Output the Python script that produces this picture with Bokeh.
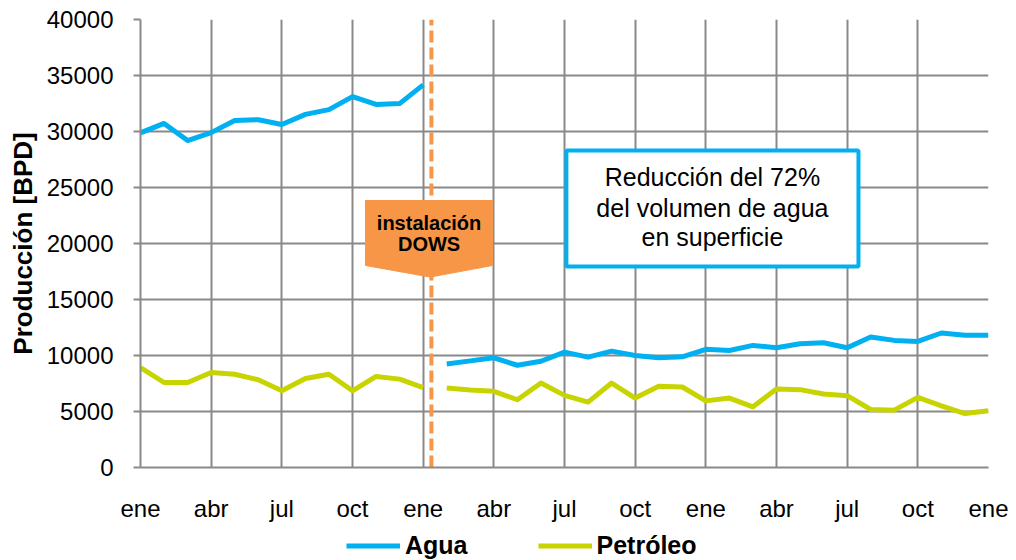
from bokeh.plotting import figure
from bokeh.layouts import column
from bokeh.models import (Range1d, FixedTicker, Legend, LegendItem, Label)
from bokeh.embed import file_html
from bokeh.resources import INLINE

# ---- data ----
months = list(range(37))
x_ticks = [0, 3, 6, 9, 12, 15, 18, 21, 24, 27, 30, 33, 36]
x_labels = ["ene", "abr", "jul", "oct", "ene", "abr", "jul", "oct",
            "ene", "abr", "jul", "oct", "ene"]
y_ticks = [0, 5000, 10000, 15000, 20000, 25000, 30000, 35000, 40000]

agua = [29880, 30720, 29190, 29900, 30990, 31050, 30630, 31530, 31950, 33110, 32420, 32490, 34160,
        9250, 9520, 9790, 9130, 9490, 10300, 9850, 10390, 10000, 9790, 9880, 10550,
        10450, 10900, 10690, 11050, 11140, 10690, 11650, 11350, 11260, 12010, 11800, 11800]
petroleo = [8930, 7590, 7590, 8480, 8330, 7830, 6850, 7950, 8330, 6850, 8130, 7890, 7140,
            7100, 6920, 6800, 6050, 7540, 6440, 5840, 7540, 6200, 7250, 7190, 5950,
            6200, 5420, 7010, 6950, 6560, 6410, 5180, 5120, 6260, 5510, 4820, 5060]
split = 13  # installation of DOWS between month 12 and 13
series_names = ["Agua", "Petróleo"]

FONT = "Liberation Sans"
GRID = "#898989"
BLUE = "#00B0F0"
GREEN = "#C8D400"
ORANGE = "#F79646"

p = figure(frame_width=848, frame_height=448, output_backend="svg", toolbar_location=None,
           x_range=Range1d(0, 36), y_range=Range1d(0, 40000),
           min_border_left=140, min_border_top=19, min_border_right=28, min_border_bottom=63)
p.outline_line_color = None
p.background_fill_color = "white"
p.border_fill_color = "white"

# grids
p.xgrid.ticker = FixedTicker(ticks=x_ticks)
p.ygrid.ticker = FixedTicker(ticks=y_ticks)
for g in (p.xgrid, p.ygrid):
    g.grid_line_color = GRID
    g.grid_line_width = 2

# axes
p.xaxis.ticker = FixedTicker(ticks=x_ticks)
p.xaxis.major_label_overrides = {t: l for t, l in zip(x_ticks, x_labels)}
p.yaxis.ticker = FixedTicker(ticks=y_ticks)
for ax in (p.xaxis, p.yaxis):
    ax.axis_line_color = GRID
    ax.axis_line_width = 2
    ax.major_tick_line_color = GRID
    ax.major_tick_line_width = 2
    ax.minor_tick_line_color = None
    ax.major_label_text_font = FONT
    ax.major_label_text_font_size = "24px"
    ax.major_label_text_color = "#000000"
p.xaxis.major_tick_out = 0
p.xaxis.major_tick_in = 0
p.xaxis.major_label_standoff = 27
p.yaxis.major_tick_out = 7
p.yaxis.major_tick_in = 0
p.yaxis.major_label_standoff = 20
p.yaxis.axis_label = "Producción [BPD]"
p.yaxis.axis_label_text_font = FONT
p.yaxis.axis_label_text_font_size = "26px"
p.yaxis.axis_label_text_font_style = "bold"
p.yaxis.axis_label_text_color = "#000000"
p.yaxis.axis_label_standoff = 6

# DOWS installation dashed line
p.segment(x0=[12.35], y0=[0], x1=[12.35], y1=[40000], line_color=ORANGE,
          line_width=4, line_dash="12 5")

# series
p.line(months[:split], agua[:split], line_color=BLUE, line_width=5, line_join="round")
p.line(months[split:], agua[split:], line_color=BLUE, line_width=5, line_join="round")
p.line(months[:split], petroleo[:split], line_color=GREEN, line_width=5, line_join="round")
p.line(months[split:], petroleo[split:], line_color=GREEN, line_width=5, line_join="round")

# callout (orange pentagon arrow)
cx = [9.55, 14.94, 14.94, 12.3, 9.55]
cy = [23839, 23839, 18036, 17000, 18036]
p.patch(cx, cy, fill_color=ORANGE, line_color=ORANGE, line_width=1)
for txt, yy in (("instalación", 21875), ("DOWS", 20000)):
    p.add_layout(Label(x=12.25, y=yy, text=txt, text_align="center", text_baseline="middle",
                       text_font=FONT, text_font_size="20px", text_font_style="bold",
                       text_color="#000000"))

# text box
p.quad(left=[18.08], right=[30.48], top=[28304], bottom=[17946], fill_color="white",
       line_color=BLUE, line_width=4)
for txt, yy in (("Reducción del 72%", 25893), ("del volumen de agua", 23214),
                ("en superficie", 20536)):
    p.add_layout(Label(x=24.28, y=yy, text=txt, text_align="center", text_baseline="middle",
                       text_font=FONT, text_font_size="25px", text_color="#000000"))

# ---- legend strip (separate figure below the chart) ----
lg = figure(frame_width=1016, frame_height=30, output_backend="svg", toolbar_location=None,
            x_range=Range1d(0, 1016), y_range=Range1d(0, 30),
            min_border_left=0, min_border_right=0, min_border_top=0, min_border_bottom=0,
            x_axis_type=None, y_axis_type=None)
lg.outline_line_color = None
lg.grid.visible = False
lg.background_fill_color = "white"
lg.border_fill_color = "white"
# proxy renderers (off-range) that only provide the legend swatches
rl_a = lg.line([-20, -10], [0, 0], line_color=BLUE, line_width=5)
rl_p = lg.line([-20, -10], [0, 0], line_color=GREEN, line_width=5)

legend = Legend(items=[LegendItem(label=series_names[0], renderers=[rl_a]),
                       LegendItem(label=series_names[1], renderers=[rl_p])],
                orientation="horizontal", location=(346, 0))
legend.label_text_font = FONT
legend.label_text_font_size = "25px"
legend.label_text_font_style = "bold"
legend.label_text_color = "#000000"
legend.glyph_width = 54
legend.glyph_height = 25
legend.label_height = 25
legend.label_standoff = 5
legend.spacing = 70
legend.padding = 2
legend.margin = 0
legend.border_line_color = None
legend.background_fill_alpha = 0
lg.add_layout(legend)

layout = column(p, lg, spacing=0)
open("out.html", "w").write(file_html(layout, INLINE))
